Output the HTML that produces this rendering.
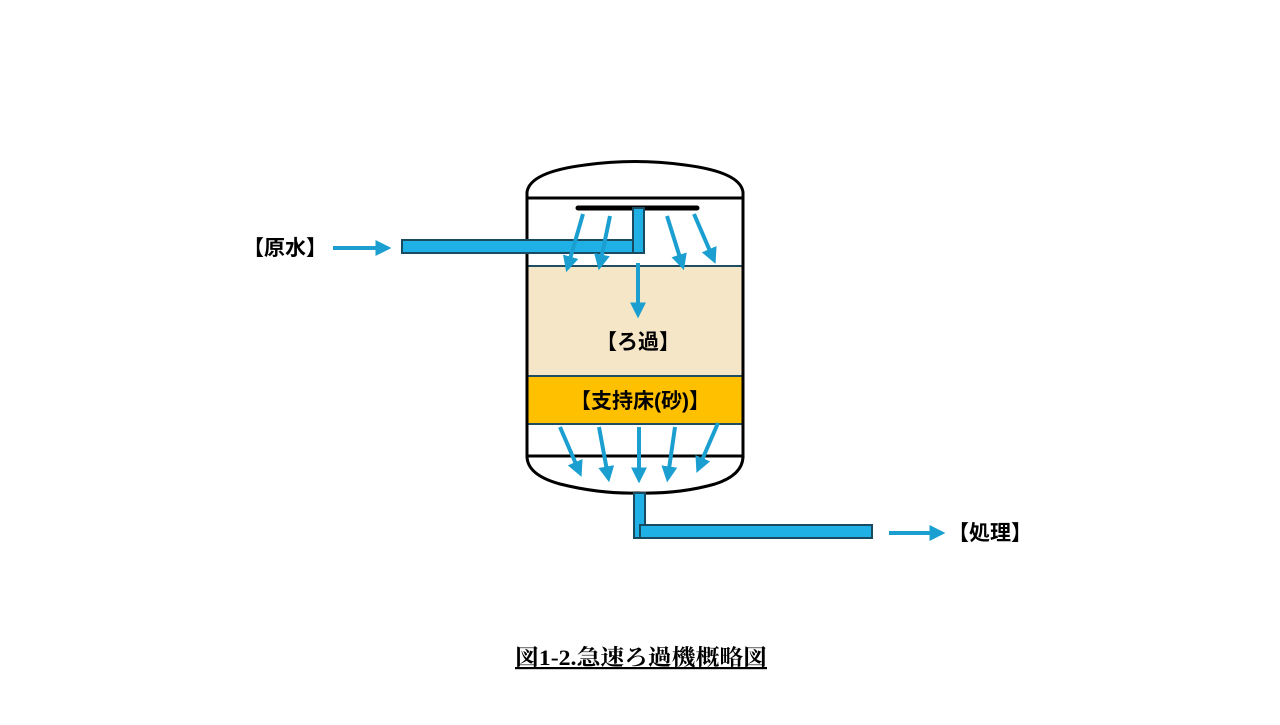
<!DOCTYPE html>
<html><head><meta charset="utf-8"><style>
body{margin:0;background:#fff;width:1280px;height:720px;overflow:hidden}
</style></head><body>
<svg width="1280" height="720" viewBox="0 0 1280 720" xmlns="http://www.w3.org/2000/svg">
<defs>
<marker id="ah" viewBox="0 0 10 10" refX="6" refY="5" markerWidth="4" markerHeight="4" orient="auto">
<path d="M0,0 L10,5 L0,10 Z" fill="#1a9fd0"/></marker>
</defs>
<rect x="527" y="266" width="216" height="110" fill="#f5e6c8"/>
<rect x="527" y="376" width="216" height="48" fill="#ffc000"/>
<line x1="527" y1="266" x2="743" y2="266" stroke="#1f4e63" stroke-width="2"/>
<line x1="527" y1="376" x2="743" y2="376" stroke="#1f4e63" stroke-width="2"/>
<line x1="527" y1="424" x2="743" y2="424" stroke="#1f4e63" stroke-width="2"/>
<path d="M527,198 L527,192 Q530,172 585,165 Q635,158 685,165 Q740,172 743,192 L743,198" fill="none" stroke="#000" stroke-width="3"/>
<line x1="527" y1="198" x2="743" y2="198" stroke="#000" stroke-width="3"/>
<line x1="527" y1="198" x2="527" y2="458" stroke="#000" stroke-width="3"/>
<line x1="743" y1="198" x2="743" y2="458" stroke="#000" stroke-width="3"/>
<line x1="527" y1="456" x2="743" y2="456" stroke="#000" stroke-width="3"/>
<path d="M527,456 Q527,475 560,484 Q600,494 638,493 Q680,494 715,484 Q743,475 743,456" fill="none" stroke="#000" stroke-width="3"/>
<line x1="578" y1="208" x2="697" y2="208" stroke="#000" stroke-width="5" stroke-linecap="round"/>
<rect x="402" y="240" width="242" height="13" fill="#1fb0e6" stroke="#1a4a60" stroke-width="2"/>
<rect x="633" y="208" width="11" height="45" fill="#1fb0e6" stroke="#1a4a60" stroke-width="2"/>
<rect x="634" y="493" width="11" height="45" fill="#1fb0e6" stroke="#1a4a60" stroke-width="2"/>
<rect x="640" y="525" width="232" height="13" fill="#1fb0e6" stroke="#1a4a60" stroke-width="2"/>
<g stroke="#1a9fd0" stroke-width="4" marker-end="url(#ah)">
<line x1="583" y1="214" x2="568" y2="266"/>
<line x1="610" y1="216" x2="600" y2="264"/>
<line x1="667" y1="216" x2="682" y2="264"/>
<line x1="694" y1="214" x2="713" y2="258"/>
<line x1="638" y1="263" x2="638" y2="312"/>
<line x1="560" y1="427" x2="579" y2="471"/>
<line x1="599" y1="427" x2="608" y2="476"/>
<line x1="639" y1="427" x2="639" y2="477"/>
<line x1="675" y1="427" x2="668" y2="476"/>
<line x1="718" y1="423" x2="699" y2="467"/>
<line x1="333" y1="248" x2="385" y2="248"/>
<line x1="889" y1="533" x2="939" y2="533"/>
</g>
<g font-family="Liberation Sans, Noto Sans CJK JP, sans-serif" font-weight="bold" font-size="21" fill="#000">
<text x="285" y="255" text-anchor="middle">【原水】</text>
<text x="990" y="540" text-anchor="middle">【処理】</text>
<text x="638" y="349" text-anchor="middle">【ろ過】</text>
<text x="640" y="408" text-anchor="middle">【支持床(砂)】</text>
</g>
<text x="515" y="665" textLength="252" lengthAdjust="spacingAndGlyphs" font-family="Liberation Serif, Noto Serif CJK SC, serif" font-weight="bold" font-size="22" text-decoration="underline">図1-2.急速ろ過機概略図</text>
</svg>
</body></html>
